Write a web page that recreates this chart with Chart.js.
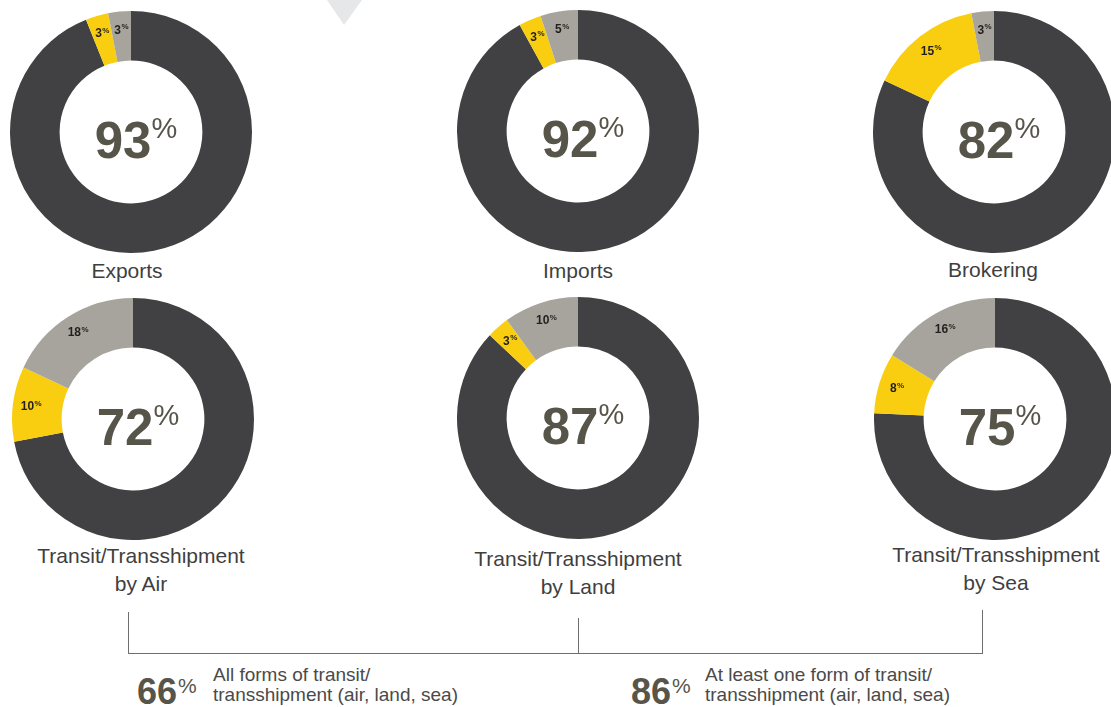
<!DOCTYPE html>
<html lang="en">

<head>
    <meta charset="UTF-8">
    <title>Transit and transshipment controls</title>
    <script src="https://cdn.jsdelivr.net/npm/chart.js"></script>
    <style>
        body {
            margin: 0;
            width: 1111px;
            height: 707px;
            overflow: hidden;
            position: relative;
            background: #fff;
            font-family: "Liberation Sans", Arial, sans-serif;
        }

        canvas.donut {
            position: absolute;
        }

        .title {
            position: absolute;
            width: 280px;
            text-align: center;
            font-size: 21px;
            line-height: 28px;
            color: #3f3f3f;
            white-space: nowrap;
        }

        .big {
            position: absolute;
            font-weight: bold;
            font-size: 36px;
            line-height: 35px;
            color: #57554a;
        }

        .big small {
            font-size: 21px;
            font-weight: normal;
            vertical-align: 11px;
            margin-left: 1px;
        }

        .note {
            position: absolute;
            font-size: 19px;
            line-height: 20px;
            color: #4a4a4a;
            white-space: nowrap;
        }

        svg {
            position: absolute;
            left: 0;
            top: 0;
        }
    </style>
</head>

<body>
    <svg width="1111" height="707">
        <polygon points="327,0 362,0 344,25" fill="#e6e7e8" />
        <g stroke="#6d6e71" stroke-width="1" fill="none">
            <line x1="128.5" y1="612" x2="128.5" y2="653.5" />
            <line x1="578.5" y1="618" x2="578.5" y2="653.5" />
            <line x1="982.5" y1="610" x2="982.5" y2="653.5" />
            <line x1="128" y1="653.5" x2="983" y2="653.5" />
        </g>
    </svg>

    <script>
        // segment names (not shown in the picture)
        const segments = ['Yes', 'Partly', 'No'];
        const chartTitles = [
            ['Exports'],
            ['Imports'],
            ['Brokering'],
            ['Transit/Transshipment', 'by Air'],
            ['Transit/Transshipment', 'by Land'],
            ['Transit/Transshipment', 'by Sea']
        ];
        const darkShare = [93, 92, 82, 72, 87, 75];
        const yellowShare = [3, 3, 15, 10, 3, 8];
        const greyShare = [3, 5, 3, 18, 10, 16];

        const summaryValues = [66, 86];
        const summaryTexts = [
            ['All forms of transit/', 'transshipment (air, land, sea)'],
            ['At least one form of transit/', 'transshipment (air, land, sea)']
        ];

        // where each donut sits on the page
        const centres = [
            [131, 132], [578, 131], [994, 132],
            [133, 419], [578, 418], [995, 419]
        ];
        const titleTops = [257, 257, 256, 542, 545, 541];
        const titleX = [127, 578, 993, 141, 578, 996];
        const summaryX = [[137, 213], [631, 705]];

        const colours = ['#414042', '#f9ce10', '#a6a49c'];
        const R = 121;

        const donutText = {
            id: 'donutText',
            afterDatasetsDraw(chart) {
                const ctx = chart.ctx;
                const arcs = chart.getDatasetMeta(0).data;
                const vals = chart.data.datasets[0].data;
                const cx = arcs[0].x, cy = arcs[0].y;
                ctx.save();
                ctx.textBaseline = 'alphabetic';
                ctx.textAlign = 'left';

                // big value in the middle
                const num = String(vals[0]);
                ctx.font = 'bold 51px "Liberation Sans"';
                const w1 = ctx.measureText(num).width;
                ctx.font = '29px "Liberation Sans"';
                const w2 = ctx.measureText('%').width;
                let x = cx - (w1 + w2) / 2 + 5;
                ctx.fillStyle = '#57554a';
                ctx.font = 'bold 51px "Liberation Sans"';
                ctx.fillText(num, x, cy + 26);
                ctx.font = '29px "Liberation Sans"';
                ctx.fillText('%', x + w1, cy + 6);

                // small labels on the other slices
                ctx.fillStyle = '#231f20';
                for (let i = 1; i < arcs.length; i++) {
                    const a = arcs[i];
                    const mid = (a.startAngle + a.endAngle) / 2;
                    const r = a.outerRadius * 0.85;
                    const lx = cx + Math.cos(mid) * r;
                    const ly = cy + Math.sin(mid) * r;
                    const t = String(vals[i]);
                    ctx.font = 'bold 12px "Liberation Sans"';
                    const tw = ctx.measureText(t).width;
                    ctx.font = 'bold 8px "Liberation Sans"';
                    const pw = ctx.measureText('%').width;
                    const sx = lx - (tw + pw) / 2;
                    ctx.font = 'bold 12px "Liberation Sans"';
                    ctx.fillText(t, sx, ly + 4);
                    ctx.font = 'bold 8px "Liberation Sans"';
                    ctx.fillText('%', sx + tw + 0.5, ly - 0.5);
                }
                ctx.restore();
            }
        };

        chartTitles.forEach((lines, i) => {
            const [cx, cy] = centres[i];
            const cv = document.createElement('canvas');
            cv.className = 'donut';
            cv.width = R * 2;
            cv.height = R * 2;
            cv.style.left = (cx - R) + 'px';
            cv.style.top = (cy - R) + 'px';
            document.body.appendChild(cv);

            new Chart(cv.getContext('2d'), {
                type: 'doughnut',
                data: {
                    labels: segments,
                    datasets: [{
                        data: [darkShare[i], yellowShare[i], greyShare[i]],
                        backgroundColor: colours,
                        borderWidth: 0,
                        hoverOffset: 0
                    }]
                },
                options: {
                    responsive: false,
                    devicePixelRatio: 1,
                    animation: false,
                    events: [],
                    cutout: '59%',
                    rotation: 0,
                    layout: { padding: 0 },
                    plugins: {
                        legend: { display: false },
                        tooltip: { enabled: false }
                    }
                },
                plugins: [donutText]
            });

            const t = document.createElement('div');
            t.className = 'title';
            t.style.left = (titleX[i] - 140) + 'px';
            t.style.top = titleTops[i] + 'px';
            t.innerHTML = lines.join('<br>');
            document.body.appendChild(t);
        });

        summaryValues.forEach((v, i) => {
            const b = document.createElement('div');
            b.className = 'big';
            b.style.left = summaryX[i][0] + 'px';
            b.style.top = '668px';
            b.innerHTML = v + '<small>%</small>';
            document.body.appendChild(b);

            const n = document.createElement('div');
            n.className = 'note';
            n.style.left = summaryX[i][1] + 'px';
            n.style.top = '665px';
            n.innerHTML = summaryTexts[i].join('<br>');
            document.body.appendChild(n);
        });
    </script>
</body>

</html>
